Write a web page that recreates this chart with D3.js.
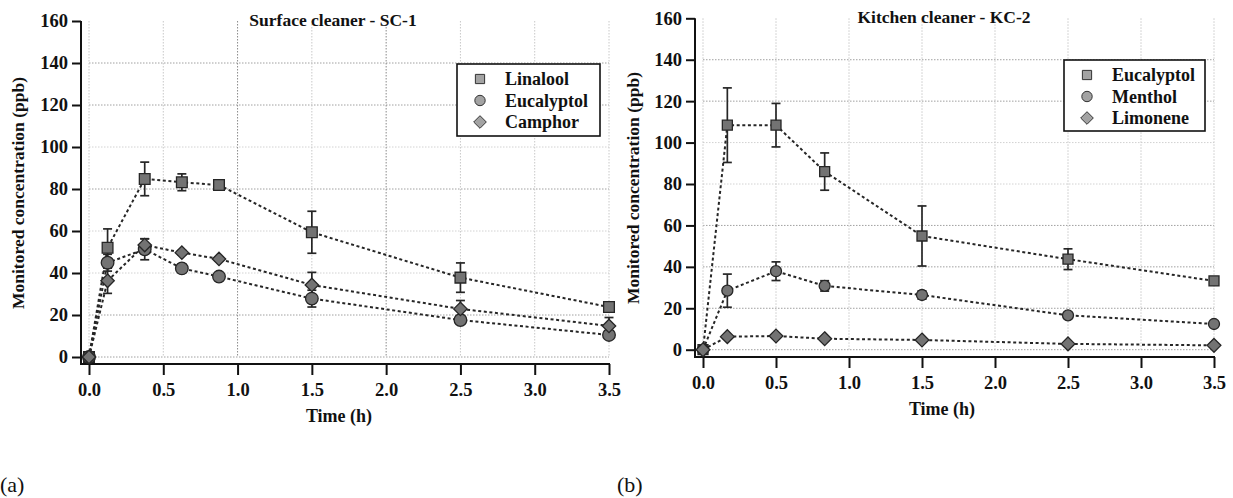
<!DOCTYPE html>
<html><head><meta charset="utf-8">
<script src="https://cdn.jsdelivr.net/npm/d3@7"></script>
<style>
html,body{margin:0;padding:0;background:#fff;}
svg{display:block;}
</style></head>
<body>
<svg id="chart" width="1233" height="498"></svg>
<script>
// ---------- data ----------
const xTicks = [0, 0.5, 1.0, 1.5, 2.0, 2.5, 3.0, 3.5];
const yTicks = [0, 20, 40, 60, 80, 100, 120, 140, 160];

// Panel (a): Surface cleaner - SC-1
const timesSC = [0, 0.125, 0.375, 0.625, 0.875, 1.5, 2.5, 3.5];
const linalool = [0, 52, 84.8, 83.2, 81.9, 59.4, 37.8, 23.8];
const linaloolErr = [0, 9, 8, 4, 1, 10, 7, 1];
const eucalyptolSC = [0, 44.9, 51.3, 42.2, 38.3, 27.8, 17.6, 10.5];
const eucalyptolSCErr = [0, 4, 5, 2, 1, 4, 1, 1];
const camphor = [0, 36.3, 53.3, 49.7, 46.7, 34.3, 22.9, 14.8];
const camphorErr = [0, 6, 3, 1, 1, 6, 4, 4];

// Panel (b): Kitchen cleaner - KC-2
const timesKC = [0, 0.1667, 0.5, 0.8333, 1.5, 2.5, 3.5];
const eucalyptolKC = [0, 108.4, 108.4, 86, 54.9, 43.7, 33.2];
const eucalyptolKCErr = [0, 18, 10.5, 9, 14.5, 5, 1];
const menthol = [0, 28.5, 37.9, 30.8, 26.4, 16.6, 12.4];
const mentholErr = [0, 8, 4.5, 2.5, 2, 1, 1];
const limonene = [0, 6.3, 6.6, 5.3, 4.7, 2.8, 2.1];
const limoneneErr = [0, 0.5, 0.5, 0.5, 0.5, 0.5, 0.5];

const titles = ["Surface cleaner - SC-1", "Kitchen cleaner - KC-2"];
const namesSC = ["Linalool", "Eucalyptol", "Camphor"];
const namesKC = ["Eucalyptol", "Menthol", "Limonene"];
const panelLabels = ["(a)", "(b)"];
const xTitle = "Time (h)";
const yTitle = "Monitored concentration (ppb)";

// ---------- drawing ----------
const FONT = "Liberation Serif";
const svg = d3.select("#chart");
const MARK_FILL = "#737373", MARK_STROKE = "#262626", LEG_FILL = "#a3a3a3";

function symbolPath(shape, size) {
  if (shape === "diamond") {
    const h = Math.sqrt(size / 2);
    return `M0,${-h}L${h},0L0,${h}L${-h},0Z`;
  }
  const t = shape === "square" ? d3.symbolSquare : d3.symbolCircle;
  return d3.symbol().type(t).size(size)();
}

function styleText(sel, size, weight) {
  sel.attr("font-family", null).attr("font-size", null)
    .style("font-family", FONT).style("font-weight", weight).style("font-size", size + "px").attr("fill", "#111");
}

function drawPanel(cfg) {
  const g = svg.append("g");
  const x = d3.scaleLinear().domain([0, 3.5]).range([cfg.x0, cfg.x1]);
  const y = d3.scaleLinear().domain([0, 160]).range([cfg.y0, cfg.y1]);

  // grid
  g.append("g").selectAll("line").data(yTicks.filter(v => v < 160)).join("line")
    .attr("x1", x(0)).attr("x2", x(3.5)).attr("y1", d => y(d)).attr("y2", d => y(d))
    .attr("stroke", d => (cfg.darkH.includes(d) ? "#a0a0a0" : "#d2d2d2")).attr("stroke-width", 1)
    .attr("stroke-dasharray", "1.5,1.5");
  g.append("g").selectAll("line").data(xTicks).join("line")
    .attr("x1", d => x(d)).attr("x2", d => x(d)).attr("y1", y(160)).attr("y2", y(0))
    .attr("stroke", d => (cfg.darkV.includes(d) ? "#8a8a8a" : "#c8c8c8")).attr("stroke-width", 1)
    .attr("stroke-dasharray", "1.5,1.5");

  // axes
  const yAxis = g.append("g").attr("transform", `translate(${cfg.yAxisX},0)`)
    .call(d3.axisLeft(y).tickValues(yTicks).tickSize(9).tickSizeOuter(0).tickPadding(4).tickFormat(d3.format("d")));
  yAxis.attr("font-family", null).attr("font-size", null);
  yAxis.select(".domain").remove();
  yAxis.selectAll(".tick line").attr("stroke", "#111").attr("stroke-width", 2);
  styleText(yAxis.selectAll(".tick text"), 18.5, "bold");
  g.append("line").attr("x1", cfg.yAxisX).attr("x2", cfg.yAxisX).attr("y1", y(160)).attr("y2", cfg.xAxisY + 1)
    .attr("stroke", "#111").attr("stroke-width", 2);

  const xAxis = g.append("g").attr("transform", `translate(0,${cfg.xAxisY})`)
    .call(d3.axisBottom(x).tickValues(xTicks).tickSize(11).tickSizeOuter(0).tickPadding(8).tickFormat(d3.format(".1f")));
  xAxis.attr("font-family", null).attr("font-size", null);
  xAxis.select(".domain").remove();
  xAxis.selectAll(".tick line").attr("stroke", "#111").attr("stroke-width", 2);
  styleText(xAxis.selectAll(".tick text"), 18.5, "bold");
  g.append("line").attr("x1", cfg.yAxisX - 1).attr("x2", x(3.5) + 1).attr("y1", cfg.xAxisY).attr("y2", cfg.xAxisY)
    .attr("stroke", "#111").attr("stroke-width", 2);

  // titles
  styleText(g.append("text").attr("x", cfg.xTitleX).attr("y", cfg.xAxisY + 58).attr("text-anchor", "middle").text(xTitle), 18, "bold");
  styleText(g.append("text").attr("transform", `translate(${cfg.yTitleX},${cfg.yTitleY}) rotate(-90)`)
    .attr("text-anchor", "middle").text(yTitle), 17.5, "bold");
  styleText(g.append("text").attr("x", cfg.titleX).attr("y", cfg.titleY).attr("text-anchor", "middle").text(cfg.title), 17.5, "bold");

  // series lines
  cfg.series.forEach(s => {
    const pts = cfg.times.map((t, i) => ({t, v: s.values[i]}));
    g.append("path").datum(pts)
      .attr("d", d3.line().x(d => x(d.t)).y(d => y(d.v)))
      .attr("fill", "none").attr("stroke", "#262626").attr("stroke-width", 2).attr("stroke-dasharray", "3,2.6");
  });
  // error bars
  cfg.series.forEach(s => {
    const pts = cfg.times.map((t, i) => ({t, v: s.values[i], e: s.errs[i]})).filter(d => d.e > 0);
    const eg = g.append("g").attr("stroke", "#262626").attr("stroke-width", 1.7);
    eg.selectAll("line.v").data(pts).join("line").attr("class", "v")
      .attr("x1", d => x(d.t)).attr("x2", d => x(d.t)).attr("y1", d => y(d.v - d.e)).attr("y2", d => y(d.v + d.e));
    eg.selectAll("line.t").data(pts).join("line").attr("class", "t")
      .attr("x1", d => x(d.t) - 4.5).attr("x2", d => x(d.t) + 4.5).attr("y1", d => y(d.v + d.e)).attr("y2", d => y(d.v + d.e));
    eg.selectAll("line.b").data(pts).join("line").attr("class", "b")
      .attr("x1", d => x(d.t) - 4.5).attr("x2", d => x(d.t) + 4.5).attr("y1", d => y(d.v - d.e)).attr("y2", d => y(d.v - d.e));
  });
  // markers
  cfg.series.forEach(s => {
    g.append("g").selectAll("path").data(cfg.times.map((t, i) => ({t, v: s.values[i]}))).join("path")
      .attr("d", symbolPath(s.shape, s.size))
      .attr("transform", d => `translate(${x(d.t)},${y(d.v)})`)
      .attr("fill", MARK_FILL).attr("stroke", MARK_STROKE).attr("stroke-width", 1.3);
  });

  // legend
  const L = cfg.legend;
  g.append("rect").attr("x", L.x).attr("y", L.y).attr("width", L.w).attr("height", L.h)
    .attr("fill", "#fff").attr("stroke", "#111").attr("stroke-width", 1.6);
  cfg.series.forEach((s, i) => {
    const cy = L.y + 15 + i * 21.5;
    g.append("path").attr("d", symbolPath(s.shape, s.legSize))
      .attr("transform", `translate(${L.x + 23},${cy})`)
      .attr("fill", LEG_FILL).attr("stroke", "#333").attr("stroke-width", 1);
    styleText(g.append("text").attr("x", L.x + 48).attr("y", cy + 6).text(s.name), 18, "bold");
  });

  styleText(svg.append("text").attr("x", cfg.labelX).attr("y", 492).text(cfg.panelLabel), 22, "normal");
}

drawPanel({
  x0: 89, x1: 609, y0: 357, y1: 21, yAxisX: 81, xAxisY: 364,
  xTitleX: 339, yTitleX: 24, yTitleY: 193, titleX: 333, titleY: 26,
  title: titles[0], times: timesSC, darkV: [1.0, 2.0], darkH: [0, 20, 80, 120, 140], labelX: 0, panelLabel: panelLabels[0],
  legend: {x: 457, y: 64, w: 143, h: 72},
  series: [
    {name: namesSC[0], values: linalool, errs: linaloolErr, shape: "square", size: 115, legSize: 85},
    {name: namesSC[1], values: eucalyptolSC, errs: eucalyptolSCErr, shape: "circle", size: 125, legSize: 85},
    {name: namesSC[2], values: camphor, errs: camphorErr, shape: "diamond", size: 90, legSize: 80}
  ]
});

drawPanel({
  x0: 703, x1: 1214, y0: 349.7, y1: 18.3, yAxisX: 695, xAxisY: 357,
  xTitleX: 942, yTitleX: 639, yTitleY: 188, titleX: 944, titleY: 23,
  title: titles[1], times: timesKC, darkV: [], darkH: [0, 20, 40, 60, 120, 140], labelX: 617, panelLabel: panelLabels[1],
  legend: {x: 1064, y: 60, w: 141, h: 71},
  series: [
    {name: namesKC[0], values: eucalyptolKC, errs: eucalyptolKCErr, shape: "square", size: 100, legSize: 85},
    {name: namesKC[1], values: menthol, errs: mentholErr, shape: "circle", size: 95, legSize: 85},
    {name: namesKC[2], values: limonene, errs: limoneneErr, shape: "diamond", size: 95, legSize: 80}
  ]
});
</script>
</body></html>
